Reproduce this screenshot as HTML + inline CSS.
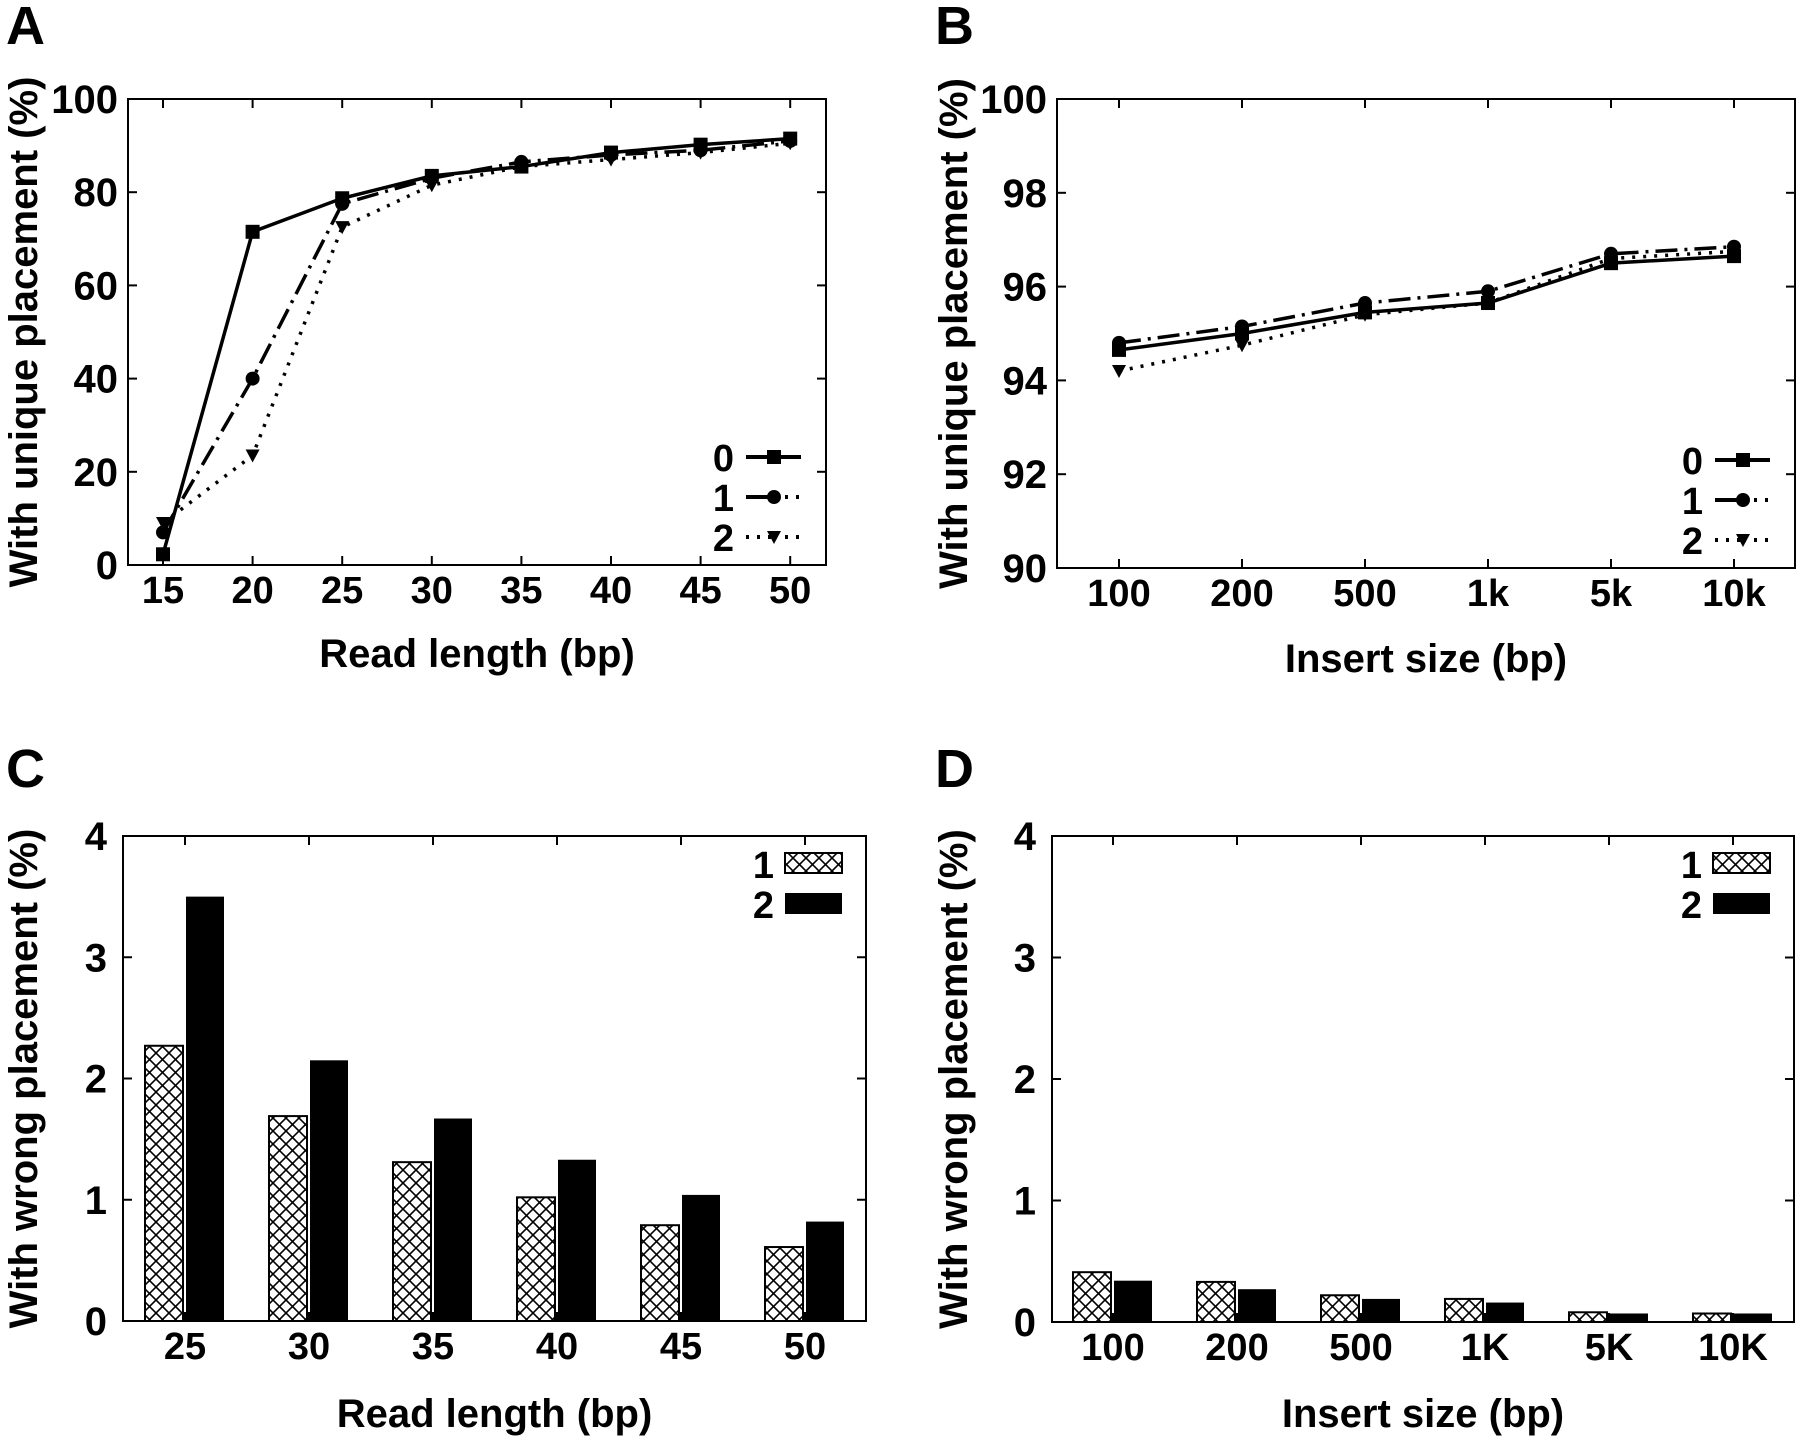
<!DOCTYPE html>
<html><head><meta charset="utf-8"><style>
html,body{margin:0;padding:0;background:#fff;}
svg{display:block;}
text{font-family:"Liberation Sans",sans-serif;font-weight:bold;fill:#000;}
</style></head><body>
<svg id="fig" width="1800" height="1440" viewBox="0 0 1800 1440" xmlns="http://www.w3.org/2000/svg">
<defs>
<pattern id="hatch" patternUnits="userSpaceOnUse" width="13" height="13">
<rect width="13" height="13" fill="#fff"/>
<path d="M0,0 L13,13 M13,0 L0,13" stroke="#000" stroke-width="1.6"/>
</pattern>
</defs>
</svg>
<script>
// Panel A data
const aCats = [15,20,25,30,35,40,45,50];
const aS0 = [2.3,71.5,78.7,83.5,85.5,88.5,90.2,91.5];
const aS1 = [7,40,77.5,83,86.5,88,89,91];
const aS2 = [9,23.5,72.5,81.5,85.5,87,88.5,90.5];
const aYTicks = [0,20,40,60,80,100];
// Panel B data
const bCats = ["100","200","500","1k","5k","10k"];
const bS0 = [94.65,95.0,95.45,95.65,96.5,96.65];
const bS1 = [94.8,95.15,95.65,95.9,96.7,96.85];
const bS2 = [94.2,94.75,95.4,95.65,96.6,96.75];
const bYTicks = [90,92,94,96,98,100];
// Panel C data
const cCats = ["25","30","35","40","45","50"];
const cS1 = [2.27,1.69,1.31,1.02,0.79,0.61];
const cS2 = [3.5,2.15,1.67,1.33,1.04,0.82];
// Panel D data
const dCats = ["100","200","500","1K","5K","10K"];
const dS1 = [0.41,0.33,0.22,0.19,0.08,0.07];
const dS2 = [0.34,0.27,0.19,0.16,0.07,0.07];
const barYTicks = [0,1,2,3,4];
const seriesNames = ["0","1","2"];

const NS="http://www.w3.org/2000/svg";
const svg=document.getElementById('fig');
function el(tag,attrs,parent){const e=document.createElementNS(NS,tag);for(const k in attrs)e.setAttribute(k,attrs[k]);(parent||svg).appendChild(e);return e;}
function txt(s,x,y,size,anchor,parent){const t=el('text',{x:x,y:y,'font-size':size,'text-anchor':anchor||'middle'},parent);t.textContent=s;return t;}

function frame(g,L,R,T,B,xt,yt){
  const r=el('rect',{x:L,y:T,width:R-L,height:B-T,fill:'none',stroke:'#000','stroke-width':2},g);
  
  
  xt.forEach(x=>{el('line',{x1:x,y1:B,x2:x,y2:B-9,stroke:'#000','stroke-width':2},g);el('line',{x1:x,y1:T,x2:x,y2:T+9,stroke:'#000','stroke-width':2},g);});
  yt.forEach(y=>{el('line',{x1:L,y1:y,x2:L+9,y2:y,stroke:'#000','stroke-width':2},g);el('line',{x1:R,y1:y,x2:R-9,y2:y,stroke:'#000','stroke-width':2},g);});
}
function marker(g,type,x,y){
  let m;
  if(type===0) m=el('rect',{x:x-7,y:y-7,width:14,height:14,fill:'#000'},g);
  else if(type===1) m=el('circle',{cx:x,cy:y,r:7,fill:'#000'},g);
  else m=el('path',{d:`M${x-7},${y-6} L${x+7},${y-6} L${x},${y+7} Z`,fill:'#000'},g);
  
  
}
const dashes=['none','22,7,3,7','3,8'];

function linePanel(opt){
  const g=el('g',{});
  
  
  const {L,R,T,B}=opt;
  const ymin=opt.yTicks[0], ymax=opt.yTicks[opt.yTicks.length-1];
  const ys=v=>B-(v-ymin)/(ymax-ymin)*(B-T);
  const xs=i=>opt.x0+i*opt.dx;
  frame(g,L,R,T,B,opt.cats.map((c,i)=>xs(i)),opt.yTicks.map(ys));
  opt.yTicks.forEach(v=>{const t=txt(String(v),L-10,ys(v)+14,40,'end',g);});
  opt.cats.forEach((c,i)=>{const t=txt(String(c),xs(i),B+38,38,'middle',g);});
  opt.series.forEach((s,k)=>{
    const p=el('polyline',{points:s.map((v,i)=>xs(i)+','+ys(v)).join(' '),fill:'none',stroke:'#000','stroke-width':3.5,'stroke-dasharray':dashes[k]},g);
    
    
    s.forEach((v,i)=>marker(g,k,xs(i),ys(v)));
  });
  // legend
  seriesNames.forEach((n,k)=>{
    const y=opt.legY+k*40;
    const t=txt(n,R-92,y+14,38,'end',g);
    const l1=el('line',{x1:R-80,y1:y,x2:R-52,y2:y,stroke:'#000','stroke-width':4,'stroke-dasharray':k===2?'3,8':'none'},g);
    
    const l2=el('line',{x1:R-52,y1:y,x2:R-25,y2:y,stroke:'#000','stroke-width':4,'stroke-dasharray':k===0?'none':'3,8'},g);
    
    marker(g,k,R-52,y);
  });
  const xt=txt(opt.xTitle,(L+R)/2,opt.xTitleY,40,'middle',g);
  const yt=txt(opt.yTitle,0,0,40,'middle',g);yt.setAttribute('transform',`translate(${opt.yTitleX},${(T+B)/2}) rotate(-90)`);
  
  const pl=txt(opt.letter,opt.letterX,opt.letterY,54,'start',g);
}
function barPanel(opt){
  const g=el('g',{});
  
  
  const {L,R,T,B}=opt;
  const ys=v=>B-v/4*(B-T);
  const xs=i=>opt.x0+i*opt.dx;
  opt.cats.forEach((c,i)=>{
    const v1=opt.s1[i], v2=opt.s2[i];
    const r1=el('rect',{x:xs(i)-40,y:ys(v1),width:38,height:B-ys(v1),fill:'url(#hatch)',stroke:'#000','stroke-width':2},g);
    
    const r2=el('rect',{x:xs(i)+1,y:ys(v2),width:38,height:B-ys(v2),fill:'#000'},g);
    
    const t=txt(c,xs(i),B+38,38,'middle',g);
  });
  frame(g,L,R,T,B,opt.cats.map((c,i)=>xs(i)),barYTicks.map(ys));
  barYTicks.forEach(v=>{const t=txt(String(v),L-16,ys(v)+14,40,'end',g);});
  // legend
  const lb1=el('rect',{x:R-81,y:T+17,width:57,height:20,fill:'url(#hatch)',stroke:'#000','stroke-width':2},g);
  
  const lb2=el('rect',{x:R-81,y:T+57,width:57,height:21,fill:'#000'},g);
  
  const t1=txt('1',R-92,T+42,38,'end',g);
  const t2=txt('2',R-92,T+82,38,'end',g);
  const xt=txt(opt.xTitle,(L+R)/2,opt.xTitleY,40,'middle',g);
  const yt=txt('With wrong placement (%)',0,0,40,'middle',g);yt.setAttribute('transform',`translate(${opt.yTitleX},${(T+B)/2}) rotate(-90)`);
  
  const pl=txt(opt.letter,opt.letterX,opt.letterY,54,'start',g);
}
linePanel({name:'panel-a',L:128,R:826,T:99,B:565,x0:163,dx:89.6,cats:aCats,series:[aS0,aS1,aS2],yTicks:aYTicks,legY:457,
  xTitle:'Read length (bp)',xTitleY:667,yTitle:'With unique placement (%)',yTitleX:37,letter:'A',letterX:6,letterY:44});
linePanel({name:'panel-b',L:1057,R:1795,T:99,B:568,x0:1119,dx:123,cats:bCats,series:[bS0,bS1,bS2],yTicks:bYTicks,legY:460,
  xTitle:'Insert size (bp)',xTitleY:672,yTitle:'With unique placement (%)',yTitleX:967,letter:'B',letterX:935,letterY:44});
barPanel({name:'panel-c',L:123,R:866,T:836,B:1321,x0:185,dx:124,cats:cCats,s1:cS1,s2:cS2,
  xTitle:'Read length (bp)',xTitleY:1427,yTitleX:37,letter:'C',letterX:6,letterY:787});
barPanel({name:'panel-d',L:1052,R:1794,T:836,B:1322,x0:1113,dx:124,cats:dCats,s1:dS1,s2:dS2,
  xTitle:'Insert size (bp)',xTitleY:1427,yTitleX:967,letter:'D',letterX:935,letterY:787});
</script>
</body></html>
